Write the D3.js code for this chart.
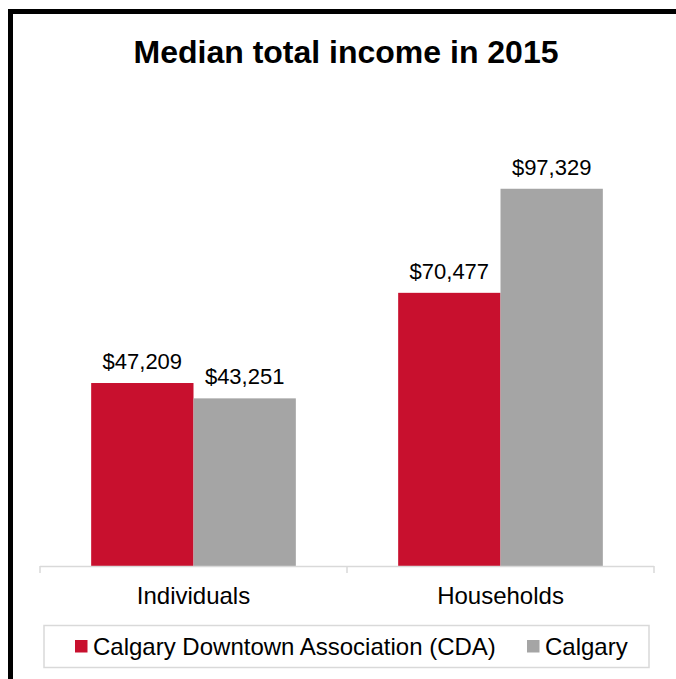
<!DOCTYPE html>
<html><head><meta charset="utf-8">
<script src="https://cdnjs.cloudflare.com/ajax/libs/d3/7.8.5/d3.min.js"></script>
<style>body{margin:0;background:#fff}svg{display:block;font-family:"Liberation Sans",Arial,sans-serif}</style>
</head><body>
<script>
const categories = ["Individuals", "Households"];
const seriesNames = ["Calgary Downtown Association (CDA)", "Calgary"];
const cdaValues = [47209, 70477];
const calgaryValues = [43251, 97329];
const valueLabels = [["$47,209", "$70,477"], ["$43,251", "$97,329"]];
const colors = ["#C8102E", "#A5A5A5"];

const W = 676, H = 679;
const svg = d3.select("body").append("svg").attr("width", W).attr("height", H);

// outer frame (cropped at right & bottom)
svg.append("path").attr("d", `M10.5,${H+5} L10.5,11.5 L${W+5},11.5`)
  .attr("fill","none").attr("stroke","#000").attr("stroke-width",5);

svg.append("text").attr("x",346).attr("y",63).attr("text-anchor","middle")
  .attr("font-size",32).attr("font-weight","bold").text("Median total income in 2015");

const plotL = 40, plotR = 654, base = 566;
const x0 = d3.scaleBand().domain(categories).range([plotL, plotR]).paddingInner(0).paddingOuter(0);
const x1 = d3.scaleBand().domain([0,1]).range([0, x0.bandwidth()]).paddingInner(0).paddingOuter(0.5);
const y = d3.scaleLinear().domain([0, 120000]).range([base, base - 120000*0.003876]);

const series = [cdaValues, calgaryValues];
series.forEach((vals, s) => {
  categories.forEach((c, i) => {
    const bx = x0(c) + x1(s);
    svg.append("rect").attr("x", bx).attr("y", y(vals[i]))
      .attr("width", x1.bandwidth()).attr("height", base - y(vals[i]))
      .attr("fill", colors[s]);
    svg.append("text").attr("x", bx + x1.bandwidth()/2).attr("y", y(vals[i]) - 14)
      .attr("text-anchor","middle").attr("font-size",22).attr("fill","#000")
      .text(valueLabels[s][i]);
  });
});

// axis
const g = svg.append("g").attr("transform", `translate(0,${base})`);
g.append("line").attr("x1",plotL).attr("x2",plotR).attr("y1",0.5).attr("y2",0.5).attr("stroke","#D9D9D9").attr("stroke-width",1.5);
[plotL, (plotL+plotR)/2, plotR].forEach(t => {
  g.append("line").attr("x1",t).attr("x2",t).attr("y1",0).attr("y2",7).attr("stroke","#D9D9D9").attr("stroke-width",1.5);
});
categories.forEach(c => {
  g.append("text").attr("x", x0(c)+x0.bandwidth()/2).attr("y", 38).attr("text-anchor","middle")
    .attr("font-size",24).attr("fill","#000").text(c);
});

// legend
const lg = svg.append("g");
lg.append("rect").attr("x",44).attr("y",625.5).attr("width",605).attr("height",42)
  .attr("fill","#fff").attr("stroke","#D9D9D9").attr("stroke-width",1.5);
const legX = [75, 527];
seriesNames.forEach((n, s) => {
  lg.append("rect").attr("x",legX[s]).attr("y",640).attr("width",12.5).attr("height",12.5).attr("fill",colors[s]);
  lg.append("text").attr("x",legX[s]+18).attr("y",654.5).attr("font-size",24).attr("fill","#000").text(n);
});
</script>
</body></html>
